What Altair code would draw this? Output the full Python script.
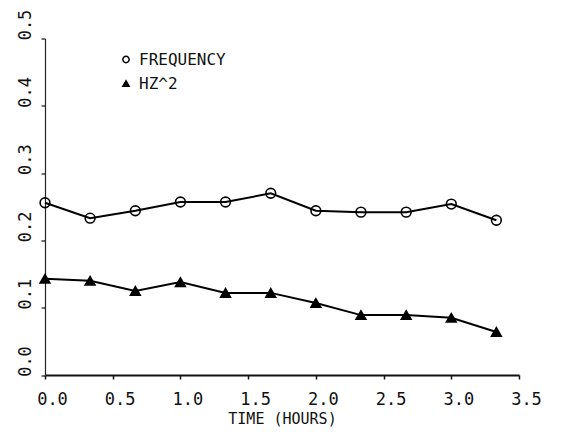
import altair as alt
import pandas as pd

# Data
times = [0.0, 0.333, 0.667, 1.0, 1.333, 1.667, 2.0, 2.333, 2.667, 3.0, 3.333]
frequency = [0.256, 0.233, 0.244, 0.257, 0.257, 0.270, 0.244, 0.242, 0.242, 0.254, 0.230]
hz2 = [0.143, 0.140, 0.125, 0.138, 0.122, 0.122, 0.107, 0.089, 0.089, 0.085, 0.064]
series_names = ["FREQUENCY", "HZ^2"]
x_ticks = [0.0, 0.5, 1.0, 1.5, 2.0, 2.5, 3.0, 3.5]
y_ticks = [0.0, 0.1, 0.2, 0.3, 0.4, 0.5]

rows = []
for t, v in zip(times, frequency):
    rows.append({"time": t, "value": v, "series": series_names[0]})
for t, v in zip(times, hz2):
    rows.append({"time": t, "value": v, "series": series_names[1]})
df = pd.DataFrame(rows)

FONT = "DejaVu Sans Mono"

x = alt.X(
    "time:Q",
    scale=alt.Scale(domain=[0, 3.5], nice=False, zero=False),
    axis=alt.Axis(
        values=x_ticks, format=".1f", title="TIME (HOURS)",
        labelFont=FONT, labelFontSize=17, labelColor="#111", labelOffset=7,
        labelPadding=12, titleFont=FONT, titleFontSize=15, titleFontWeight="normal",
        titleColor="#111", titlePadding=4, tickSize=4, tickColor="#111",
        tickWidth=1.5, domainColor="#111", domainWidth=2, grid=False,
        labelFlush=False,
    ),
)
y = alt.Y(
    "value:Q",
    scale=alt.Scale(domain=[0, 0.5], nice=False),
    axis=alt.Axis(
        values=y_ticks, format=".1f", title=None,
        labelFont=FONT, labelFontSize=17, labelColor="#111", labelAngle=270,
        labelAlign="center", labelBaseline="bottom", labelOffset=-14,
        labelPadding=7, tickSize=4, tickColor="#111", tickWidth=1.2,
        domainColor="#222", domainWidth=1.2, grid=False, labelFlush=False,
    ),
)

legend = alt.Legend(
    title=None, orient="none", legendX=73, legendY=13, padding=0,
    labelFont=FONT, labelFontSize=16, labelColor="#111", symbolSize=40,
    rowPadding=8, labelOffset=5, symbolStrokeWidth=1.5,
)

lines = alt.Chart(df).mark_line(color="black", strokeWidth=2).encode(
    x=x, y=y, detail="series:N"
)

points = alt.Chart(df).mark_point(
    filled=True, strokeWidth=1.6, opacity=1, size=95
).encode(
    x=x,
    y=y,
    shape=alt.Shape(
        "series:N",
        scale=alt.Scale(domain=series_names, range=["circle", "triangle-up"]),
        legend=legend,
    ),
    fill=alt.Fill(
        "series:N",
        scale=alt.Scale(domain=series_names, range=["transparent", "black"]),
        legend=legend,
    ),
    stroke=alt.Stroke(
        "series:N",
        scale=alt.Scale(domain=series_names, range=["black", "black"]),
        legend=legend,
    ),
)

chart = (
    alt.layer(lines, points)
    .properties(
        width=474,
        height=336.5,
        autosize=alt.AutoSizeParams(type="none"),
        padding={"left": 37, "top": 30.5, "right": 37, "bottom": 52},
        background="white",
    )
    .configure_view(stroke=None)
)

chart.save("out.html", embed_options={"renderer": "svg", "actions": False})
